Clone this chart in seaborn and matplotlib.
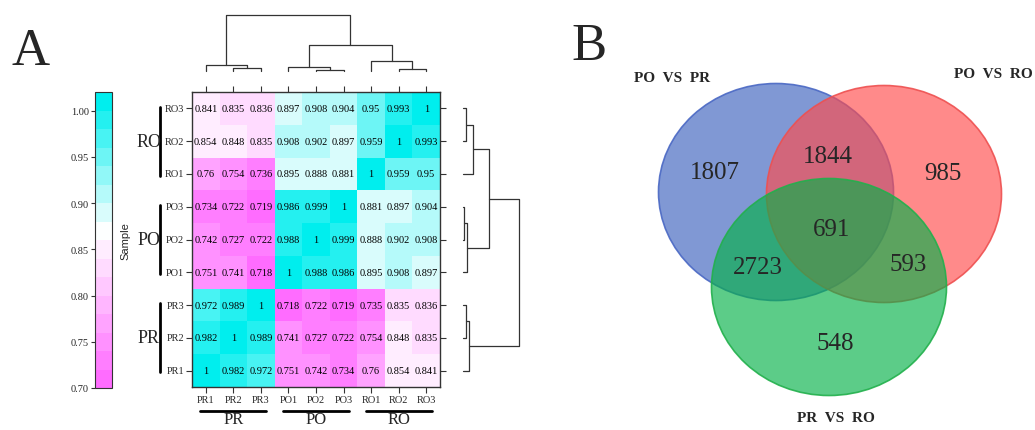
import numpy as np
import pandas as pd
import matplotlib
matplotlib.use("Agg")
import matplotlib.pyplot as plt
import seaborn as sns
from matplotlib.colors import LinearSegmentedColormap
from matplotlib.patches import Ellipse

sns.set_style("white")
plt.rcParams['font.family'] = ['Liberation Serif', 'DejaVu Serif']

# ---- data ----
samples = ['PR1', 'PR2', 'PR3', 'PO1', 'PO2', 'PO3', 'RO1', 'RO2', 'RO3']
row_samples = samples[::-1]          # top -> bottom
groups = ['PR', 'PO', 'RO']

corr_rows = [
    [0.841, 0.835, 0.836, 0.897, 0.908, 0.904, 0.95, 0.993, 1],
    [0.854, 0.848, 0.835, 0.908, 0.902, 0.897, 0.959, 1, 0.993],
    [0.76, 0.754, 0.736, 0.895, 0.888, 0.881, 1, 0.959, 0.95],
    [0.734, 0.722, 0.719, 0.986, 0.999, 1, 0.881, 0.897, 0.904],
    [0.742, 0.727, 0.722, 0.988, 1, 0.999, 0.888, 0.902, 0.908],
    [0.751, 0.741, 0.718, 1, 0.988, 0.986, 0.895, 0.908, 0.897],
    [0.972, 0.989, 1, 0.718, 0.722, 0.719, 0.735, 0.835, 0.836],
    [0.982, 1, 0.989, 0.741, 0.727, 0.722, 0.754, 0.848, 0.835],
    [1, 0.982, 0.972, 0.751, 0.742, 0.734, 0.76, 0.854, 0.841],
]

# hierarchical clustering merges (leaf index in `samples` order), heights
merges = [
    (1, 2, 3.0),     # 9  PR2-PR3
    (0, 9, 5.8),     # 10 PR1
    (4, 5, 1.2),     # 11 PO2-PO3
    (3, 11, 3.6),    # 12 PO1
    (7, 8, 2.5),     # 13 RO2-RO3
    (6, 13, 9.8),    # 14 RO1
    (12, 14, 25.7),  # 15 PO-RO
    (10, 15, 56.0),  # 16 root
]

venn_sets = ['PO  VS  PR', 'PO  VS  RO', 'PR  VS  RO']
venn_counts = [1807, 1844, 985, 2723, 691, 593, 548]

df = pd.DataFrame(corr_rows, index=row_samples, columns=samples)

W, H = 1035, 431
fig = plt.figure(figsize=(W / 100, H / 100), dpi=100)


def px_axes(x0, y0, x1, y1):
    return fig.add_axes([x0 / W, 1 - y1 / H, (x1 - x0) / W, (y1 - y0) / H])


# ---- heatmap ----
cmap = LinearSegmentedColormap.from_list(
    'pc', [(0.0, '#ff6cff'), (0.53, '#ffffff'), (1.0, '#00eeee')]).resampled(16)

ax = px_axes(192, 93, 440, 388)
cax = px_axes(95, 93, 112, 389)
annot = df.map(lambda v: f"{v:g}")
sns.heatmap(df, ax=ax, cbar_ax=cax, cmap=cmap, vmin=0.70, vmax=1.02,
            annot=annot, fmt='', annot_kws={'fontsize': 7.5, 'color': 'black'},
            cbar_kws={'ticks': [0.70, 0.75, 0.80, 0.85, 0.90, 0.95, 1.00],
                      'format': '%.2f'})
for s in ax.spines.values():
    s.set_visible(True)
    s.set_color('#333333')
    s.set_linewidth(1.0)
ax.tick_params(top=True, right=True, left=True, bottom=True,
               labeltop=False, labelright=False, direction='out',
               length=4, width=0.8, color='#333333', labelsize=7.5, pad=1.5)
ax.set_xticklabels(samples, rotation=0)
ax.set_yticklabels(row_samples, rotation=0)
ax.set_xlabel('')
ax.set_ylabel('')

cax.yaxis.set_ticks_position('left')
cax.tick_params(labelsize=7.5, length=3, width=0.8, color='#333333', pad=1.5)
cax.yaxis.set_label_position('right')
cax.set_ylabel('Sample', family=['Liberation Sans', 'DejaVu Sans'],
               fontsize=8, labelpad=6)
cbar = ax.collections[0].colorbar
cbar.outline.set_edgecolor('#333333')
cbar.outline.set_linewidth(0.8)

# group labels
for g, name in enumerate(groups):
    # left (rows top->bottom: RO, PO, PR)
    r0 = (2 - g) * 3
    ax.plot([-0.13, -0.13], [r0 + 0.45, r0 + 2.55], color='black', lw=2,
            transform=ax.get_yaxis_transform(), clip_on=False)
    ax.text(-0.175, r0 + 1.5, name, fontsize=13, ha='center', va='center',
            transform=ax.get_yaxis_transform())
    # bottom
    c0 = g * 3
    ax.plot([c0 + 0.3, c0 + 2.7], [-0.08, -0.08], color='black', lw=2,
            transform=ax.get_xaxis_transform(), clip_on=False)
    ax.text(c0 + 1.5, -0.137, name, fontsize=12, ha='center', va='bottom',
            transform=ax.get_xaxis_transform())


# ---- dendrograms ----
def dendro_segments(merges, n):
    pos = {i: i + 0.5 for i in range(n)}
    hgt = {i: 0.0 for i in range(n)}
    segs = []
    for k, (a, b, h) in enumerate(merges):
        segs.append(([pos[a], pos[a], pos[b], pos[b]], [hgt[a], h, h, hgt[b]]))
        pos[n + k] = (pos[a] + pos[b]) / 2
        hgt[n + k] = h
    return segs


segs = dendro_segments(merges, len(samples))

axt = px_axes(192, 16, 440, 72)
for xs, hs in segs:
    axt.plot(xs, hs, color='#333333', lw=0.9, clip_on=False)
axt.set_xlim(0, len(samples))
axt.set_ylim(0, 56)
axt.axis('off')

axr = px_axes(463, 93, 519, 388)
for xs, hs in segs:
    axr.plot(hs, [len(samples) - x for x in xs], color='#333333', lw=0.9,
             clip_on=False)
axr.set_ylim(len(samples), 0)
axr.set_xlim(0, 56)
axr.axis('off')

# ---- Venn ----
axv = px_axes(560, 0, W, H)
axv.set_xlim(560, W)
axv.set_ylim(H, 0)
axv.axis('off')

centers = [(776, 193), (884, 195), (829, 288)]
fills = ['#3c61bd', '#ff4b4b', '#05b148']
edges = ['#4a68c4', '#ee5050', '#22b04c']
for (cx, cy), fc, ec in zip(centers, fills, edges):
    axv.add_patch(Ellipse((cx, cy), 235, 217, facecolor=fc, alpha=0.65,
                          edgecolor='none'))
    axv.add_patch(Ellipse((cx, cy), 235, 217, facecolor='none',
                          edgecolor=ec, lw=1.2, alpha=0.9))

count_pos = [(715, 173), (828, 157), (943, 174), (758, 268), (832, 230),
             (908, 265), (835, 344)]
for (x, y), c in zip(count_pos, venn_counts):
    axv.text(x, y, str(c), fontsize=18, ha='center', va='center')

set_pos = [(672, 78), (993, 74), (836, 419)]
for (x, y), name in zip(set_pos, venn_sets):
    axv.text(x, y, name, fontsize=11, fontweight='bold', ha='center',
             va='center')

# panel letters
fig.text(12 / W, 1 - 65 / H, 'A', fontsize=38, va='baseline')
fig.text(571 / W, 1 - 60 / H, 'B', fontsize=38, va='baseline')

plt.savefig('out.png', dpi=100)
plt.close()
